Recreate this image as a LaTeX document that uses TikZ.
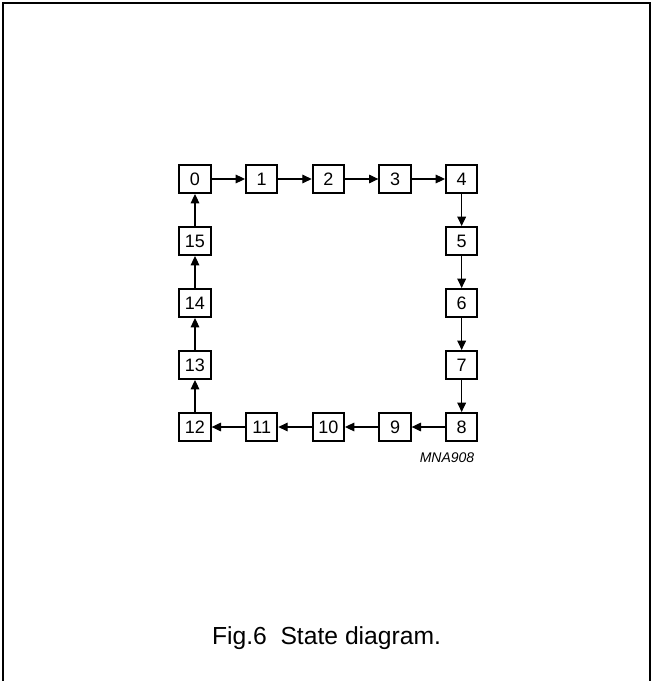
\documentclass[tikz,border=0pt]{standalone}
\usepackage{fontspec}
\setmainfont{Liberation Sans}
\usetikzlibrary{positioning, arrows.meta}
\tikzset{
   statebox/.style={
     draw=black, line width=1.5pt, minimum width=23.5pt, minimum height=21pt,
     inner sep=0pt, font=\fontsize{13.5}{15}\selectfont
   },
   stateline/.style={-{Triangle[length=7pt,width=6.5pt]}, line width=0.8pt},
   frameline/.style={line width=1.5pt},
   caption/.style={font=\fontsize{18.5}{22}\selectfont},
   code/.style={font=\fontsize{10.5}{12}\selectfont\itshape}
}
\begin{document}
\begin{tikzpicture}[x=0.75pt, y=-0.75pt, node distance=24pt and 25pt]
      \useasboundingbox (0,0) rectangle (653,681);
      \draw[frameline] (3,690) -- (3,3) -- (650,3) -- (650,690);

      \node[statebox](s0) at (195,179) {0};
      \node[statebox](s1) [right = of s0] {1};
      \node[statebox](s2) [right = of s1] {2};
      \node[statebox](s3) [right = of s2] {3};
      \node[statebox](s4) [right = of s3] {4};

      \node[statebox](s5) [below = of s4] {5};
      \node[statebox](s6) [below = of s5] {6};
      \node[statebox](s7) [below = of s6] {7};
      \node[statebox](s8) [below = of s7] {8};

      \node[statebox](s9) [left = of s8] {9};
      \node[statebox](s10) [left = of s9] {10};
      \node[statebox](s11) [left = of s10] {11};
      \node[statebox](s12) [left = of s11] {12};

      \node[statebox](s13) [above = of s12] {13};
      \node[statebox](s14) [above = of s13] {14};
      \node[statebox](s15) [above = of s14] {15};

      \node[code](mna) at (447,458) {MNA908};
      \node[caption](fig) at (326.5,638) {Fig.6\ \ State diagram.};

      \draw[stateline] (s0) -- (s1);
      \draw[stateline] (s1) -- (s2);
      \draw[stateline] (s2) -- (s3);
      \draw[stateline] (s3) -- (s4);
      \draw[stateline] (s4) -- (s5);
      \draw[stateline] (s5) -- (s6);
      \draw[stateline] (s6) -- (s7);
      \draw[stateline] (s7) -- (s8);
      \draw[stateline] (s8) -- (s9);
      \draw[stateline] (s9) -- (s10);
      \draw[stateline] (s10) -- (s11);
      \draw[stateline] (s11) -- (s12);
      \draw[stateline] (s12) -- (s13);
      \draw[stateline] (s13) -- (s14);
      \draw[stateline] (s14) -- (s15);
      \draw[stateline] (s15) -- (s0);
   \end{tikzpicture}
\end{document}
